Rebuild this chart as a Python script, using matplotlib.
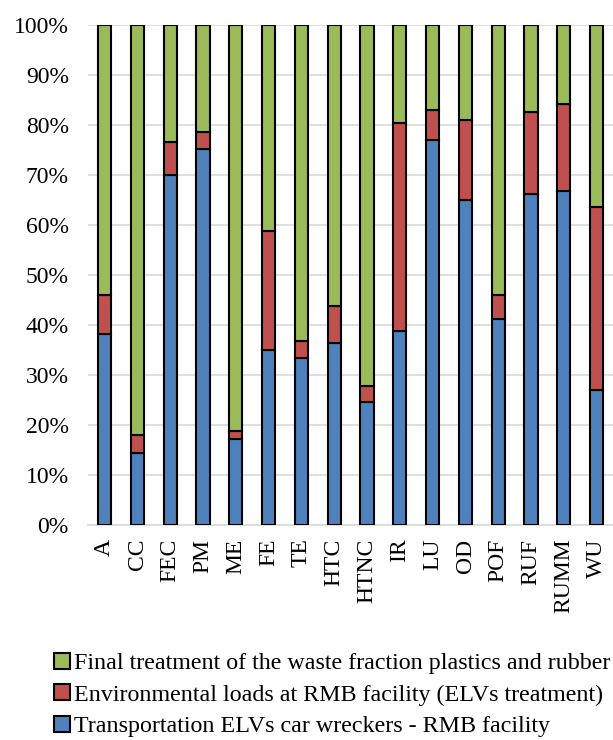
import matplotlib
matplotlib.use("Agg")
import matplotlib.pyplot as plt
import numpy as np

plt.rcParams['font.family'] = ['Liberation Serif', 'DejaVu Serif']

# kategorier och andelar (%)
kategorier = ["A", "CC", "FEC", "PM", "ME", "FE", "TE", "HTC", "HTNC", "IR",
              "LU", "OD", "POF", "RUF", "RUMM", "WU"]
transport = [38.1, 14.3, 70.1, 75.3, 17.2, 34.9, 33.4, 36.4, 24.5, 38.7,
             77.1, 65.0, 41.2, 66.2, 66.7, 26.9]
rmb = [7.9, 3.7, 6.6, 3.3, 1.6, 23.8, 3.3, 7.4, 3.3, 41.7,
       5.9, 16.0, 4.8, 16.5, 17.6, 36.7]
slutbeh = [100 - t - r for t, r in zip(transport, rmb)]

namn_transport = "Transportation ELVs car wreckers - RMB facility"
namn_rmb = "Environmental loads at RMB facility (ELVs treatment)"
namn_slut = "Final treatment of the waste fraction plastics and rubber"

fig = plt.figure(figsize=(6.13, 7.40), dpi=100)
ax = fig.add_axes([0.144, 0.291, 0.856, 0.675])

x = np.arange(len(kategorier))
b = 0.4
kant = dict(edgecolor="black", linewidth=1.5, width=b, zorder=3)
h1 = ax.bar(x, transport, color="#4f81bd", label=namn_transport, **kant)
h2 = ax.bar(x, rmb, bottom=transport, color="#c0504d", label=namn_rmb, **kant)
bas = [t + r for t, r in zip(transport, rmb)]
h3 = ax.bar(x, slutbeh, bottom=bas, color="#9bbb59", label=namn_slut, **kant)

ax.set_xlim(-0.5, len(kategorier) - 0.5)
ax.set_ylim(0, 100)
ax.set_yticks(np.arange(0, 101, 10))
ax.set_yticklabels([f"{v}%" for v in range(0, 101, 10)], fontsize=17)
ax.set_xticks(x)
ax.set_xticklabels(kategorier, rotation=90, fontsize=17)
ax.tick_params(axis="both", length=0)
ax.tick_params(axis="y", pad=14)
ax.tick_params(axis="x", pad=10)
ax.yaxis.grid(True, color="#d9d9d9", linewidth=1.2, zorder=0)
for s in ["top", "right", "left"]:
    ax.spines[s].set_visible(False)
ax.spines["bottom"].set_color("#d9d9d9")
ax.spines["bottom"].set_linewidth(1.2)

fig.legend([h3, h2, h1], [namn_slut, namn_rmb, namn_transport],
           loc="upper left", bbox_to_anchor=(0.088, 0.118), frameon=False,
           fontsize=17.3, handlelength=0.65, handleheight=0.65, handletextpad=0.2,
           labelspacing=0.42, borderaxespad=0, borderpad=0)

fig.savefig("out.png", dpi=100)
